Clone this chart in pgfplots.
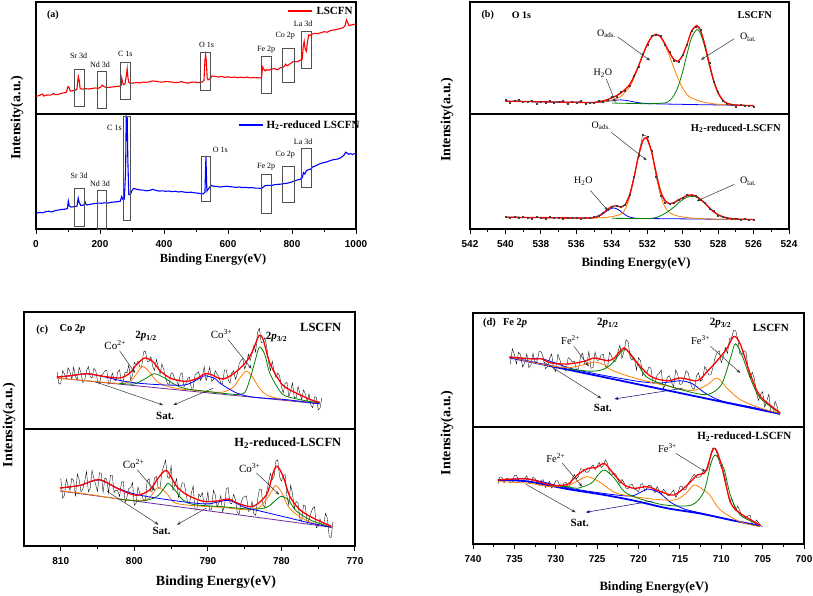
\documentclass[border=0pt]{standalone}
\usepackage{fontspec}
\setmainfont{Liberation Serif}
\setsansfont{Liberation Sans}
\usepackage{pgfplots}
\pgfplotsset{compat=1.18}
\usetikzlibrary{arrows.meta}

\definecolor{fitred}{RGB}{255,0,0}
\definecolor{fitblue}{RGB}{0,0,255}
\definecolor{fitgreen}{RGB}{0,128,0}
\definecolor{fitorange}{RGB}{255,128,0}
\definecolor{basepurple}{RGB}{110,40,160}
\definecolor{boxgray}{RGB}{80,80,80}

\tikzset{
  arr/.style={-{Stealth[length=4pt,width=3pt]}, line width=0.5pt, black!80},
  box/.style={boxgray, line width=0.5pt},
}
\pgfplotsset{
  panel/.style={scale only axis, ymin=0, ymax=1, ytick=\empty, clip=false,
    axis line style={line width=1.3pt},
    every tick/.style={black, line width=1pt},
    tick align=outside, major tick length=5pt, minor tick length=3pt,
    xtick pos=left},
  top/.style={panel, xtick=\empty},
  bot/.style={panel, minor x tick num=1, xticklabel shift=3pt,
    xticklabel style={font=\fontsize{10}{10}\selectfont\sffamily\bfseries,
      /pgf/number format/assume math mode=true, /pgf/number format/1000 sep={}}},
  raw/.style={black, line width=0.35pt},
  fit/.style={fitred, line width=1.3pt, smooth, tension=0.5},
  cmp/.style={line width=0.8pt, smooth, tension=0.5},
}

\begin{document}
\begin{tikzpicture}
\useasboundingbox (0pt,0pt) rectangle (813pt,596pt);

% ---------------- (a) survey, LSCFN ----------------
\begin{axis}[top, at={(36pt,482pt)}, anchor=south west, width=320pt, height=112pt,
  xmin=0, xmax=1000]
\addplot[fitred, line width=1.1pt] coordinates {
(0,0.157)(10,0.165)(20,0.178)(25,0.160)(35,0.170)(45,0.168)(55,0.182)(60,0.172)(70,0.175)(80,0.185)
(90,0.190)(95,0.195)(100,0.245)(103,0.238)(107,0.205)(115,0.208)(122,0.212)(128,0.222)(132,0.335)(135,0.300)
(138,0.225)(145,0.222)(155,0.226)(165,0.223)(175,0.228)(185,0.232)(195,0.230)(203,0.242)(207,0.258)(212,0.245)
(220,0.236)(230,0.238)(240,0.242)(250,0.245)(260,0.248)(266,0.255)(268,0.320)(270,0.290)(273,0.262)(278,0.268)
(283,0.360)(285,0.405)(287,0.330)(290,0.280)(295,0.275)(305,0.277)(315,0.280)(325,0.278)(335,0.285)(345,0.282)
(355,0.288)(365,0.295)(375,0.292)(385,0.287)(395,0.284)(405,0.290)(415,0.288)(425,0.285)(435,0.280)(445,0.283)
(455,0.288)(465,0.280)(475,0.276)(485,0.283)(495,0.285)(505,0.280)(515,0.282)(520,0.288)(525,0.300)(528,0.480)
(530,0.527)(532,0.480)(535,0.320)(538,0.305)(545,0.318)(550,0.340)(560,0.335)(570,0.330)(580,0.335)(590,0.328)
(600,0.332)(610,0.326)(620,0.330)(630,0.324)(640,0.328)(650,0.325)(660,0.330)(670,0.322)(680,0.326)(690,0.324)
(700,0.322)(705,0.330)(708,0.420)(712,0.400)(716,0.385)(720,0.395)(725,0.390)(735,0.400)(745,0.405)(755,0.395)
(765,0.415)(775,0.420)(780,0.445)(785,0.430)(795,0.450)(805,0.470)(815,0.465)(825,0.478)(832,0.490)(835,0.600)
(838,0.650)(841,0.580)(845,0.560)(848,0.640)(852,0.705)(856,0.700)(862,0.712)(870,0.720)(880,0.718)(890,0.725)
(900,0.735)(910,0.730)(920,0.745)(930,0.750)(940,0.755)(950,0.762)(960,0.770)(966,0.790)(970,0.840)(974,0.815)
(978,0.790)(985,0.795)(993,0.800)(1000,0.805)};
% legend
\draw[fitred, line width=1.3pt] (axis cs:787,0.92) -- (axis cs:862,0.92);
\node[anchor=west, font=\fontsize{11}{11}\selectfont\bfseries, inner sep=0pt] at (axis cs:876,0.92) {LSCFN};
\node[font=\fontsize{10}{10}\selectfont\bfseries] at (axis cs:53,0.884) {(a)};
\draw[box] (axis cs:119,0.068) rectangle (axis cs:150,0.402);
\draw[box] (axis cs:190,0.047) rectangle (axis cs:221,0.379);
\draw[box] (axis cs:262,0.133) rectangle (axis cs:294,0.462);
\draw[box] (axis cs:512,0.216) rectangle (axis cs:544,0.550);
\draw[box] (axis cs:703,0.186) rectangle (axis cs:734,0.518);
\draw[box] (axis cs:771,0.281) rectangle (axis cs:808,0.586);
\draw[box] (axis cs:829,0.408) rectangle (axis cs:860,0.743);
\begin{scope}[every node/.style={font=\fontsize{8}{8}\selectfont}]
\node at (axis cs:133,0.518) {Sr 3d};
\node at (axis cs:200,0.438) {Nd 3d};
\node at (axis cs:279,0.536) {C 1s};
\node at (axis cs:533,0.621) {O 1s};
\node at (axis cs:719,0.577) {Fe 2p};
\node at (axis cs:779,0.701) {Co 2p};
\node at (axis cs:835,0.802) {La 3d};
\end{scope}
\end{axis}

% ---------------- (a) survey, H2-reduced ----------------
\begin{axis}[bot, at={(36pt,367pt)}, anchor=south west, width=320pt, height=115pt,
  xmin=0, xmax=1000, xtick={0,200,...,1000}]
\addplot[fitblue, line width=1.1pt] coordinates {
(0,0.134)(10,0.145)(20,0.140)(30,0.150)(40,0.155)(50,0.148)(60,0.160)(70,0.165)(80,0.170)(90,0.172)
(98,0.178)(101,0.243)(104,0.200)(110,0.190)(120,0.195)(128,0.198)(132,0.268)(135,0.230)(140,0.205)(150,0.208)
(153,0.237)(157,0.210)(165,0.212)(175,0.218)(185,0.222)(195,0.225)(205,0.224)(215,0.228)(225,0.226)(235,0.232)
(245,0.235)(255,0.238)(263,0.240)(268,0.282)(272,0.255)(276,0.260)(280,0.500)(282,0.979)(285,0.965)(287,0.600)
(290,0.300)(295,0.300)(300,0.335)(305,0.352)(315,0.345)(325,0.340)(335,0.338)(345,0.332)(355,0.335)(365,0.345)
(375,0.335)(385,0.330)(395,0.332)(405,0.328)(415,0.330)(425,0.325)(435,0.328)(445,0.322)(455,0.325)(465,0.320)
(475,0.318)(485,0.320)(495,0.315)(505,0.312)(515,0.308)(522,0.305)(528,0.320)(531,0.629)(534,0.330)(537,0.340)
(542,0.362)(548,0.378)(555,0.372)(565,0.370)(575,0.365)(585,0.368)(595,0.372)(605,0.368)(615,0.366)(625,0.362)
(635,0.365)(645,0.360)(655,0.362)(665,0.358)(675,0.360)(685,0.356)(695,0.355)(705,0.352)(710,0.365)(715,0.375)
(725,0.380)(735,0.378)(745,0.385)(755,0.388)(765,0.390)(775,0.395)(785,0.398)(795,0.405)(805,0.415)(815,0.425)
(825,0.432)(832,0.445)(836,0.490)(840,0.478)(845,0.505)(850,0.515)(858,0.520)(865,0.540)(875,0.550)(885,0.565)
(895,0.575)(905,0.580)(915,0.590)(925,0.600)(935,0.605)(945,0.610)(955,0.625)(962,0.640)(968,0.668)(972,0.660)
(977,0.650)(983,0.655)(990,0.648)(995,0.655)(1000,0.659)};
% legend
\draw[fitblue, line width=1.3pt] (axis cs:634,0.904) -- (axis cs:709,0.904);
\node[anchor=west, font=\fontsize{11}{11}\selectfont\bfseries, inner sep=0pt] at (axis cs:720,0.904) {H\textsubscript{2}-reduced LSCFN};
\draw[box] (axis cs:119,0.021) rectangle (axis cs:150,0.356);
\draw[box] (axis cs:190,0.0) rectangle (axis cs:221,0.335);
\draw[box] (axis cs:272,0.074) rectangle (axis cs:293,0.979);
\draw[box] (axis cs:515,0.237) rectangle (axis cs:545,0.635);
\draw[box] (axis cs:703,0.139) rectangle (axis cs:734,0.475);
\draw[box] (axis cs:771,0.231) rectangle (axis cs:808,0.546);
\draw[box] (axis cs:829,0.362) rectangle (axis cs:860,0.703);
\begin{scope}[every node/.style={font=\fontsize{8}{8}\selectfont}]
\node at (axis cs:135,0.466) {Sr 3d};
\node at (axis cs:200,0.389) {Nd 3d};
\node at (axis cs:245,0.881) {C 1s};
\node at (axis cs:576,0.686) {O 1s};
\node at (axis cs:719,0.543) {Fe 2p};
\node at (axis cs:779,0.647) {Co 2p};
\node at (axis cs:835,0.760) {La 3d};
\end{scope}
\end{axis}

% ---------------- (b) O 1s, LSCFN ----------------
\begin{axis}[top, at={(470pt,482pt)}, anchor=south west, width=319pt, height=112pt,
  xmin=524, xmax=542, x dir=reverse]
\addplot[black!75, line width=0.4pt, mark=square*, mark size=0.5pt] coordinates {
(540,0.124)(539.75,0.103)(539.5,0.118)(539.25,0.128)(539,0.106)(538.75,0.110)(538.5,0.122)(538.25,0.096)
(538,0.114)(537.75,0.104)(537.5,0.118)(537.25,0.097)(537,0.107)(536.75,0.116)(536.5,0.092)(536.25,0.113)
(536,0.100)(535.75,0.118)(535.5,0.095)(535.25,0.105)(535,0.100)(534.75,0.120)(534.5,0.113)(534.25,0.125)
(534,0.150)(533.75,0.158)(533.5,0.195)(533.25,0.212)(533,0.255)(532.75,0.342)(532.5,0.420)(532.25,0.535)
(532,0.615)(531.75,0.695)(531.5,0.705)(531.25,0.698)(531,0.620)(530.75,0.558)(530.5,0.480)(530.25,0.465)
(530,0.530)(529.75,0.618)(529.5,0.748)(529.25,0.778)(529,0.755)(528.75,0.612)(528.5,0.458)(528.25,0.292)
(528,0.196)(527.75,0.120)(527.5,0.090)(527.25,0.085)(527,0.068)(526.75,0.082)(526.5,0.070)(526.25,0.078)(526,0.066)};
\addplot[cmp, fitblue] coordinates {(540,0.115)(538,0.109)(536,0.104)(535,0.101)(534.5,0.107)(534,0.119)(533.5,0.126)(533,0.116)(532.5,0.101)(532,0.093)(531,0.089)(530,0.086)(529,0.083)(528,0.081)(527,0.078)(526,0.075)};
\addplot[cmp, fitorange] coordinates {(536,0.104)(535,0.103)(534.5,0.109)(534,0.123)(533.5,0.156)(533,0.240)(532.75,0.320)(532.5,0.419)(532.25,0.524)(532,0.620)(531.75,0.687)(531.5,0.711)(531.25,0.685)(531,0.617)(530.75,0.520)(530.5,0.413)(530.25,0.313)(530,0.231)(529.75,0.172)(529.5,0.144)(529,0.113)(528.5,0.097)(528,0.087)(527,0.078)(526,0.075)};
\addplot[cmp, fitgreen] coordinates {(534,0.098)(532,0.092)(531,0.099)(530.75,0.119)(530.5,0.163)(530.25,0.247)(530,0.378)(529.75,0.538)(529.5,0.680)(529.2,0.754)(529,0.719)(528.75,0.598)(528.5,0.436)(528.25,0.288)(528,0.184)(527.75,0.124)(527.5,0.095)(527,0.080)(526,0.075)};
\addplot[fit] coordinates {(540,0.115)(538,0.109)(536,0.104)(535,0.103)(534.5,0.117)(534,0.144)(533.5,0.186)(533,0.261)(532.75,0.335)(532.5,0.427)(532.25,0.527)(532,0.621)(531.75,0.687)(531.5,0.712)(531.25,0.689)(531,0.627)(530.75,0.550)(530.5,0.488)(530.25,0.473)(530,0.523)(529.75,0.624)(529.5,0.740)(529.2,0.789)(529,0.749)(528.75,0.620)(528.5,0.451)(528.25,0.299)(528,0.190)(527.75,0.127)(527.5,0.096)(527,0.080)(526,0.075)};
\begin{scope}[every node/.style={font=\fontsize{10}{10}\selectfont}]
\node[font=\fontsize{10}{10}\selectfont\bfseries] at (axis cs:541.0,0.88) {(b)};
\node[font=\fontsize{10}{10}\selectfont\bfseries] at (axis cs:539.1,0.88) {O 1s};
\node[font=\fontsize{10.5}{10}\selectfont\bfseries] at (axis cs:525.93,0.88) {LSCFN};
\node at (axis cs:534.3,0.716) {O\textsubscript{ads.}};
\node at (axis cs:526.3,0.687) {O\textsubscript{lat.}};
\node at (axis cs:534.5,0.364) {H\textsubscript{2}O};
\end{scope}
\draw[arr] (axis cs:533.66,0.687) -- (axis cs:531.84,0.478);
\draw[arr] (axis cs:527.09,0.672) -- (axis cs:528.97,0.484);
\draw[arr] (axis cs:534.31,0.313) -- (axis cs:533.79,0.104);
\end{axis}

% ---------------- (b) O 1s, H2-reduced ----------------
\begin{axis}[bot, at={(470pt,367pt)}, anchor=south west, width=319pt, height=115pt,
  xmin=524, xmax=542, x dir=reverse, xtick={524,526,...,542}]
\addplot[black!75, line width=0.4pt, mark=square*, mark size=0.5pt] coordinates {
(540,0.108)(539.75,0.097)(539.5,0.104)(539.25,0.095)(539,0.106)(538.75,0.099)(538.5,0.093)(538.25,0.104)
(538,0.098)(537.75,0.092)(537.5,0.103)(537.25,0.096)(537,0.101)(536.75,0.091)(536.5,0.099)(536.25,0.094)
(536,0.100)(535.75,0.092)(535.5,0.097)(535.25,0.100)(535,0.104)(534.75,0.118)(534.5,0.140)(534.25,0.172)
(534,0.192)(533.75,0.205)(533.5,0.195)(533.25,0.215)(533,0.300)(532.75,0.455)(532.5,0.640)(532.25,0.820)
(532,0.805)(531.75,0.680)(531.5,0.455)(531.25,0.290)(531,0.232)(530.75,0.218)(530.5,0.232)(530.25,0.258)
(530,0.268)(529.75,0.295)(529.5,0.292)(529.25,0.290)(529,0.255)(528.75,0.228)(528.5,0.180)(528.25,0.155)
(528,0.118)(527.75,0.105)(527.5,0.098)(527.25,0.090)(527,0.092)(526.75,0.083)(526.5,0.088)(526.25,0.080)(526,0.085)};
\addplot[cmp, fitblue] coordinates {(540,0.102)(538,0.099)(536,0.096)(535.15,0.097)(534.9,0.102)(534.65,0.116)(534.4,0.143)(534.15,0.170)(533.9,0.183)(533.65,0.170)(533.4,0.141)(533.15,0.114)(532.9,0.100)(532.65,0.093)(532,0.091)(530,0.088)(528,0.085)(526,0.082)};
\addplot[cmp, fitorange] coordinates {(540,0.102)(538,0.099)(536,0.096)(535,0.096)(534.5,0.099)(534,0.107)(533.6,0.123)(533.35,0.146)(533.1,0.226)(532.85,0.368)(532.6,0.554)(532.35,0.722)(532.1,0.791)(531.85,0.721)(531.6,0.553)(531.35,0.366)(531.1,0.223)(530.85,0.160)(530.6,0.130)(530.2,0.110)(529.6,0.097)(529,0.090)(528,0.085)(526,0.082)};
\addplot[cmp, fitgreen] coordinates {(534,0.093)(532,0.091)(531.5,0.100)(531.25,0.115)(531,0.135)(530.75,0.160)(530.5,0.190)(530.25,0.225)(530,0.255)(529.75,0.277)(529.5,0.287)(529.25,0.278)(529,0.255)(528.75,0.222)(528.5,0.185)(528.25,0.150)(528,0.124)(527.75,0.108)(527.5,0.097)(527,0.087)(526,0.082)};
\addplot[fit] coordinates {(540,0.102)(538,0.099)(536,0.096)(535,0.098)(534.5,0.136)(534.25,0.170)(534,0.195)(533.75,0.200)(533.5,0.192)(533.25,0.210)(533,0.290)(532.75,0.445)(532.5,0.630)(532.25,0.768)(532.1,0.792)(532,0.782)(531.75,0.670)(531.5,0.490)(531.25,0.330)(531,0.250)(530.75,0.222)(530.5,0.227)(530.25,0.250)(530,0.272)(529.75,0.290)(529.5,0.297)(529.25,0.287)(529,0.260)(528.75,0.225)(528.5,0.187)(528.25,0.150)(528,0.124)(527.75,0.108)(527.5,0.097)(527,0.087)(526,0.082)};
\begin{scope}[every node/.style={font=\fontsize{10}{10}\selectfont}]
\node[font=\fontsize{10.5}{10}\selectfont\bfseries] at (axis cs:527.0,0.875) {H\textsubscript{2}-reduced-LSCFN};
\node at (axis cs:534.6,0.898) {O\textsubscript{ads.}};
\node at (axis cs:526.3,0.417) {O\textsubscript{lat.}};
\node at (axis cs:535.6,0.417) {H\textsubscript{2}O};
\end{scope}
\draw[arr] (axis cs:534.03,0.840) -- (axis cs:532.03,0.598);
\draw[arr] (axis cs:527.09,0.388) -- (axis cs:529.21,0.242);
\draw[arr] (axis cs:535.21,0.335) -- (axis cs:534.22,0.160);
\end{axis}

% ---------------- (c) Co 2p, LSCFN ----------------
\begin{axis}[top, at={(24pt,167pt)}, anchor=south west, width=331pt, height=117pt,
  xmin=770, xmax=815, x dir=reverse]
\addplot[raw] coordinates {
(810.5,0.486)(810.25,0.383)(810,0.391)(809.75,0.498)(809.5,0.471)(809.25,0.431)(809,0.523)(808.75,0.490)
(808.5,0.422)(808.25,0.529)(808,0.447)(807.75,0.421)(807.5,0.527)(807.25,0.480)(807,0.398)(806.75,0.414)
(806.5,0.500)(806.25,0.533)(806,0.446)(805.75,0.437)(805.5,0.518)(805.25,0.502)(805,0.408)(804.75,0.385)
(804.5,0.459)(804.25,0.472)(804,0.498)(803.75,0.504)(803.5,0.383)(803.25,0.410)(803,0.478)(802.75,0.428)
(802.5,0.412)(802.25,0.488)(802,0.507)(801.75,0.381)(801.5,0.409)(801.25,0.487)(801,0.480)(800.75,0.547)
(800.5,0.417)(800.25,0.458)(800,0.568)(799.75,0.550)(799.5,0.581)(799.25,0.531)(799,0.529)(798.75,0.658)
(798.5,0.668)(798.25,0.577)(798,0.576)(797.75,0.618)(797.5,0.533)(797.25,0.501)(797,0.594)(796.75,0.532)
(796.5,0.470)(796.25,0.557)(796,0.510)(795.75,0.436)(795.5,0.389)(795.25,0.380)(795,0.482)(794.75,0.471)
(794.5,0.425)(794.25,0.414)(794,0.367)(793.75,0.470)(793.5,0.481)(793.25,0.361)(793,0.387)(792.75,0.432)
(792.5,0.442)(792.25,0.348)(792,0.352)(791.75,0.462)(791.5,0.473)(791.25,0.490)(791,0.415)(790.75,0.446)
(790.5,0.532)(790.25,0.413)(790,0.461)(789.75,0.529)(789.5,0.408)(789.25,0.422)(789,0.498)(788.75,0.470)
(788.5,0.448)(788.25,0.391)(788,0.390)(787.75,0.504)(787.5,0.505)(787.25,0.424)(787,0.392)(786.75,0.480)
(786.5,0.497)(786.25,0.425)(786,0.471)(785.75,0.557)(785.5,0.586)(785.25,0.602)(785,0.513)(784.75,0.556)
(784.5,0.640)(784.25,0.584)(784,0.646)(783.75,0.715)(783.5,0.658)(783.25,0.826)(783,0.861)(782.75,0.739)
(782.5,0.743)(782.25,0.782)(782,0.702)(781.75,0.573)(781.5,0.499)(781.25,0.579)(781,0.497)(780.75,0.439)
(780.5,0.479)(780.25,0.454)(780,0.359)(779.75,0.308)(779.5,0.390)(779.25,0.400)(779,0.277)(778.75,0.325)
(778.5,0.394)(778.25,0.268)(778,0.267)(777.75,0.364)(777.5,0.307)(777.25,0.251)(777,0.334)(776.75,0.300)
(776.5,0.237)(776.25,0.301)(776,0.203)(775.75,0.183)(775.5,0.275)(775.25,0.271)(775,0.162)(774.75,0.180)(774.5,0.267)};
\addplot[basepurple, line width=0.8pt] coordinates {(810.5,0.436)(774.8,0.215)};
\addplot[cmp, fitorange] coordinates {(810.5,0.435)(806,0.41)(802,0.39)(800.5,0.41)(799.7,0.47)(798.9,0.535)(798,0.49)(797,0.41)(796,0.375)(794,0.345)(790,0.32)(788,0.315)(786.5,0.36)(785.6,0.44)(784.8,0.495)(784,0.45)(783,0.35)(782,0.29)(780,0.255)(777,0.235)(774.8,0.222)};
\addplot[cmp, fitgreen] coordinates {(802,0.39)(800,0.385)(798.5,0.43)(797.3,0.472)(796,0.44)(794.5,0.38)(793,0.345)(790,0.32)(788,0.305)(786,0.295)(785,0.31)(784.3,0.421)(783.6,0.578)(783,0.70)(782.25,0.635)(781.6,0.479)(780.2,0.322)(779.3,0.279)(777,0.245)(774.8,0.222)};
\addplot[cmp, fitblue] coordinates {(810.5,0.444)(808.7,0.455)(806.3,0.472)(804,0.445)(802,0.415)(799.7,0.393)(797,0.38)(795,0.375)(793,0.378)(791.5,0.42)(790.4,0.455)(789,0.43)(788.4,0.393)(786.1,0.308)(783.8,0.272)(779.3,0.25)(774.8,0.215)};
\addplot[fit] coordinates {(810.56,0.444)(808.75,0.455)(806.48,0.472)(804.22,0.450)(801.96,0.436)(800.6,0.479)(799.69,0.550)(798.56,0.607)(797.43,0.573)(796.52,0.499)(795.16,0.436)(793.8,0.413)(792.89,0.407)(791.54,0.430)(790.41,0.472)(789.5,0.464)(788.37,0.430)(787.46,0.436)(786.1,0.493)(784.74,0.578)(783.84,0.678)(783.03,0.800)(782.48,0.763)(781.58,0.564)(780.22,0.407)(779.31,0.350)(777.05,0.279)(775.69,0.243)(774.78,0.228)};
\begin{scope}[every node/.style={font=\fontsize{11}{11}\selectfont}]
\node[anchor=west, font=\fontsize{10.5}{10}\selectfont\bfseries] at (axis cs:813.8,0.85) {(c)};
\node[anchor=west, font=\fontsize{10.5}{10}\selectfont\bfseries] at (axis cs:810.65,0.85) {Co 2\textit{p}};
\node[font=\fontsize{11}{11}\selectfont\bfseries] at (axis cs:798.4,0.792) {2\textit{p}\textsubscript{1/2}};
\node[font=\fontsize{11}{11}\selectfont\bfseries] at (axis cs:780.67,0.783) {2\textit{p}\textsubscript{3/2}};
\node[anchor=east, font=\fontsize{12.5}{12}\selectfont\bfseries] at (axis cs:771.4,0.872) {LSCFN};
\node at (axis cs:802.6,0.715) {Co\textsuperscript{2+}};
\node at (axis cs:788.14,0.812) {Co\textsuperscript{3+}};
\node[font=\fontsize{11}{11}\selectfont\bfseries] at (axis cs:795.8,0.108) {Sat.};
\end{scope}
\draw[arr] (axis cs:801.96,0.664) -- (axis cs:799.9,0.479);
\draw[arr] (axis cs:787.24,0.763) -- (axis cs:784.06,0.515);
\draw[arr] (axis cs:805.35,0.404) -- (axis cs:796.1,0.205);
\draw[arr] (axis cs:789.3,0.348) -- (axis cs:794.7,0.205);
\end{axis}

% ---------------- (c) Co 2p, H2-reduced ----------------
\begin{axis}[bot, at={(24pt,50pt)}, anchor=south west, width=331pt, height=117pt,
  xmin=770, xmax=815, x dir=reverse, xtick={770,780,...,810}]
\addplot[raw] coordinates {
(810,0.577)(809.75,0.409)(809.5,0.430)(809.25,0.572)(809,0.514)(808.75,0.476)(808.5,0.578)(808.25,0.561)
(808,0.423)(807.75,0.615)(807.5,0.567)(807.25,0.462)(807,0.487)(806.75,0.553)(806.5,0.638)(806.25,0.464)
(806,0.490)(805.75,0.645)(805.5,0.580)(805.25,0.523)(805,0.466)(804.75,0.625)(804.5,0.624)(804.25,0.457)
(804,0.580)(803.75,0.571)(803.5,0.452)(803.25,0.604)(803,0.605)(802.75,0.457)(802.5,0.478)(802.25,0.471)
(802,0.423)(801.75,0.547)(801.5,0.550)(801.25,0.374)(801,0.418)(800.75,0.493)(800.5,0.497)(800.25,0.543)
(800,0.349)(799.75,0.367)(799.5,0.504)(799.25,0.447)(799,0.440)(798.75,0.388)(798.5,0.385)(798.25,0.556)
(798,0.576)(797.75,0.463)(797.5,0.480)(797.25,0.583)(797,0.595)(796.75,0.495)(796.5,0.495)(796.25,0.630)
(796,0.685)(795.75,0.733)(795.5,0.590)(795.25,0.578)(795,0.685)(794.75,0.475)(794.5,0.525)(794.25,0.575)
(794,0.415)(793.75,0.473)(793.5,0.540)(793.25,0.538)(793,0.465)(792.75,0.367)(792.5,0.368)(792.25,0.451)
(792,0.513)(791.75,0.307)(791.5,0.310)(791.25,0.445)(791,0.420)(790.75,0.456)(790.5,0.342)(790.25,0.363)
(790,0.463)(789.75,0.304)(789.5,0.315)(789.25,0.476)(789,0.436)(788.75,0.337)(788.5,0.367)(788.25,0.430)
(788,0.293)(787.75,0.336)(787.5,0.489)(787.25,0.499)(787,0.368)(786.75,0.360)(786.5,0.442)(786.25,0.394)
(786,0.286)(785.75,0.272)(785.5,0.367)(785.25,0.415)(785,0.422)(784.75,0.429)(784.5,0.296)(784.25,0.303)
(784,0.380)(783.75,0.276)(783.5,0.262)(783.25,0.396)(783,0.480)(782.75,0.485)(782.5,0.350)(782.25,0.328)
(782,0.465)(781.75,0.543)(781.5,0.620)(781.25,0.568)(781,0.595)(780.75,0.726)(780.5,0.736)(780.25,0.591)
(780,0.555)(779.75,0.603)(779.5,0.610)(779.25,0.425)(779,0.350)(778.75,0.520)(778.5,0.450)(778.25,0.320)
(778,0.380)(777.75,0.370)(777.5,0.230)(777.25,0.210)(777,0.350)(776.75,0.340)(776.5,0.190)(776.25,0.230)
(776,0.280)(775.75,0.323)(775.5,0.335)(775.25,0.157)(775,0.168)(774.75,0.231)(774.5,0.183)(774.25,0.187)
(774,0.280)(773.75,0.234)(773.5,0.078)(773.25,0.072)(773,0.205)};
\addplot[basepurple, line width=0.8pt] coordinates {(810.1,0.47)(773.2,0.16)};
\addplot[cmp, fitorange] coordinates {(810.1,0.473)(806,0.44)(802,0.40)(799.5,0.39)(798,0.41)(796.8,0.50)(795.6,0.45)(794.5,0.37)(792,0.345)(788,0.33)(785,0.31)(783,0.33)(781.5,0.45)(780.8,0.518)(780,0.46)(779,0.33)(777.5,0.25)(775.7,0.195)(773.2,0.16)};
\addplot[cmp, fitgreen] coordinates {(802,0.40)(799,0.385)(797,0.42)(796,0.49)(795.4,0.535)(794.5,0.48)(793.5,0.40)(792,0.355)(788,0.335)(784,0.315)(782,0.33)(781,0.38)(780,0.425)(779,0.39)(778,0.30)(776,0.22)(773.2,0.16)};
\addplot[cmp, fitblue] coordinates {(810.1,0.496)(807.4,0.518)(804.8,0.565)(802.5,0.50)(800,0.445)(797,0.41)(793,0.375)(790,0.36)(787.2,0.39)(785,0.33)(783,0.30)(779,0.24)(776,0.195)(773.2,0.16)};
\addplot[fit] coordinates {(810.11,0.496)(807.39,0.518)(804.77,0.567)(801.96,0.481)(799.69,0.433)(797.88,0.481)(796.75,0.581)(795.61,0.644)(794.25,0.510)(792.89,0.439)(790.64,0.382)(788.37,0.387)(787.24,0.402)(785.65,0.359)(783.84,0.339)(782.02,0.439)(781.13,0.624)(780.58,0.681)(779.77,0.595)(778.86,0.424)(777.5,0.310)(775.69,0.239)(773.2,0.168)};
\begin{scope}[every node/.style={font=\fontsize{11}{11}\selectfont}]
\node[anchor=east, font=\fontsize{12.5}{12}\selectfont\bfseries] at (axis cs:771.4,0.88) {H\textsubscript{2}-reduced-LSCFN};
\node at (axis cs:800.1,0.70) {Co\textsuperscript{2+}};
\node at (axis cs:784.3,0.667) {Co\textsuperscript{3+}};
\node[font=\fontsize{11}{11}\selectfont\bfseries] at (axis cs:796.3,0.125) {Sat.};
\end{scope}
\draw[arr] (axis cs:799.6,0.652) -- (axis cs:797.2,0.473);
\draw[arr] (axis cs:783.4,0.624) -- (axis cs:780.3,0.439);
\draw[arr] (axis cs:803.7,0.467) -- (axis cs:796.7,0.182);
\draw[arr] (axis cs:790.2,0.325) -- (axis cs:794.2,0.182);
\end{axis}

% ---------------- (d) Fe 2p, LSCFN ----------------
\begin{axis}[top, at={(473pt,169pt)}, anchor=south west, width=331pt, height=114pt,
  xmin=700, xmax=740, x dir=reverse]
\addplot[raw] coordinates {
(735.5,0.550)(735.25,0.685)(735,0.635)(734.75,0.554)(734.5,0.656)(734.25,0.631)(734,0.525)(733.75,0.564)
(733.5,0.642)(733.25,0.521)(733,0.543)(732.75,0.646)(732.5,0.565)(732.25,0.582)(732,0.662)(731.75,0.659)
(731.5,0.608)(731.25,0.512)(731,0.528)(730.75,0.601)(730.5,0.641)(730.25,0.512)(730,0.487)(729.75,0.638)
(729.5,0.589)(729.25,0.532)(729,0.515)(728.75,0.490)(728.5,0.609)(728.25,0.596)(728,0.567)(727.75,0.578)
(727.5,0.501)(727.25,0.512)(727,0.619)(726.75,0.646)(726.5,0.553)(726.25,0.551)(726,0.661)(725.75,0.515)
(725.5,0.521)(725.25,0.657)(725,0.584)(724.75,0.589)(724.5,0.633)(724.25,0.638)(724,0.530)(723.75,0.516)
(723.5,0.653)(723.25,0.620)(723,0.571)(722.75,0.577)(722.5,0.655)(722.25,0.716)(722,0.601)(721.75,0.663)
(721.5,0.765)(721.25,0.748)(721,0.602)(720.75,0.588)(720.5,0.606)(720.25,0.499)(720,0.608)(719.75,0.582)
(719.5,0.451)(719.25,0.490)(719,0.472)(718.75,0.526)(718.5,0.516)(718.25,0.383)(718,0.394)(717.75,0.454)
(717.5,0.473)(717.25,0.500)(717,0.335)(716.75,0.371)(716.5,0.438)(716.25,0.450)(716,0.390)(715.75,0.354)
(715.5,0.501)(715.25,0.457)(715,0.373)(714.75,0.379)(714.5,0.425)(714.25,0.494)(714,0.475)(713.75,0.392)
(713.5,0.341)(713.25,0.330)(713,0.447)(712.75,0.476)(712.5,0.400)(712.25,0.418)(712,0.531)(711.75,0.501)
(711.5,0.455)(711.25,0.458)(711,0.525)(710.75,0.609)(710.5,0.652)(710.25,0.668)(710,0.563)(709.75,0.618)
(709.5,0.697)(709.25,0.645)(709,0.776)(708.75,0.784)(708.5,0.850)(708.25,0.844)(708,0.768)(707.75,0.639)
(707.5,0.637)(707.25,0.670)(707,0.655)(706.75,0.504)(706.5,0.433)(706.25,0.481)(706,0.425)(705.75,0.297)
(705.5,0.233)(705.25,0.287)(705,0.309)(704.75,0.174)(704.5,0.230)(704.25,0.287)(704,0.136)(703.75,0.137)
(703.5,0.226)(703.25,0.179)(703,0.107)};
\addplot[fitblue, line width=1.8pt] coordinates {(735.6,0.61)(702.9,0.115)};
\addplot[cmp, fitblue] coordinates {(735.6,0.614)(733.5,0.60)(731.8,0.60)(730,0.56)(728,0.51)(724,0.45)(720,0.40)(717.5,0.385)(715,0.405)(713.5,0.38)(712,0.30)(710,0.23)(706,0.17)(702.9,0.12)};
\addplot[cmp, fitorange] coordinates {(735.6,0.614)(733,0.57)(730.5,0.535)(728.5,0.52)(727,0.54)(725.3,0.57)(724,0.54)(723.3,0.50)(720.5,0.43)(716.5,0.36)(713.5,0.32)(711.7,0.37)(710.5,0.43)(709.3,0.34)(707.7,0.24)(705.3,0.167)(702.9,0.12)};
\addplot[cmp, fitgreen] coordinates {(728.5,0.51)(726,0.49)(724.5,0.50)(723.3,0.55)(721.7,0.68)(720.5,0.60)(719.3,0.46)(718,0.40)(714.5,0.32)(711.7,0.285)(710,0.37)(708.9,0.60)(708.3,0.73)(707.5,0.63)(706.5,0.43)(705.3,0.255)(702.9,0.12)};
\addplot[fit] coordinates {(735.58,0.614)(732.57,0.596)(731.77,0.599)(730.56,0.561)(728.55,0.553)(726.55,0.576)(725.34,0.605)(723.74,0.582)(722.93,0.605)(721.73,0.693)(720.52,0.591)(718.52,0.444)(716.51,0.406)(714.9,0.430)(712.89,0.406)(711.69,0.488)(710.48,0.582)(709.28,0.693)(708.47,0.795)(707.67,0.722)(706.47,0.459)(705.27,0.269)(702.86,0.123)};
\begin{scope}[every node/.style={font=\fontsize{10.5}{10}\selectfont}]
\node[anchor=west, font=\fontsize{10.5}{10}\selectfont\bfseries] at (axis cs:739.2,0.912) {(d)};
\node[anchor=west, font=\fontsize{10.5}{10}\selectfont\bfseries] at (axis cs:736.8,0.912) {Fe 2\textit{p}};
\node[font=\fontsize{11}{11}\selectfont\bfseries] at (axis cs:723.7,0.912) {2\textit{p}\textsubscript{1/2}};
\node[font=\fontsize{11}{11}\selectfont\bfseries] at (axis cs:710.1,0.912) {2\textit{p}\textsubscript{3/2}};
\node[anchor=east, font=\fontsize{11}{11}\selectfont\bfseries] at (axis cs:701.4,0.868) {LSCFN};
\node at (axis cs:728.2,0.766) {Fe\textsuperscript{2+}};
\node at (axis cs:712.5,0.766) {Fe\textsuperscript{3+}};
\node[font=\fontsize{11}{11}\selectfont\bfseries] at (axis cs:724.3,0.164) {Sat.};
\end{scope}
\draw[arr] (axis cs:727.8,0.708) -- (axis cs:726.0,0.532);
\draw[arr] (axis cs:711.3,0.708) -- (axis cs:707.7,0.474);
\draw[arr] (axis cs:731.5,0.573) -- (axis cs:724.5,0.252);
\draw[arr, draw=blue!50!black] (axis cs:714.7,0.339) -- (axis cs:722.9,0.246);
\end{axis}

% ---------------- (d) Fe 2p, H2-reduced ----------------
\begin{axis}[bot, at={(473pt,52pt)}, anchor=south west, width=331pt, height=117pt,
  xmin=700, xmax=740, x dir=reverse, xtick={700,705,...,740}]
\addplot[raw] coordinates {
(737,0.512)(736.75,0.573)(736.5,0.570)(736.25,0.522)(736,0.561)(735.75,0.562)(735.5,0.523)(735.25,0.531)
(735,0.585)(734.75,0.589)(734.5,0.547)(734.25,0.541)(734,0.534)(733.75,0.563)(733.5,0.584)(733.25,0.521)
(733,0.536)(732.75,0.571)(732.5,0.560)(732.25,0.527)(732,0.501)(731.75,0.546)(731.5,0.548)(731.25,0.483)
(731,0.512)(730.75,0.536)(730.5,0.479)(730.25,0.498)(730,0.541)(729.75,0.539)(729.5,0.496)(729.25,0.483)
(729,0.523)(728.75,0.525)(728.5,0.478)(728.25,0.506)(728,0.561)(727.75,0.593)(727.5,0.557)(727.25,0.579)
(727,0.642)(726.75,0.641)(726.5,0.626)(726.25,0.611)(726,0.620)(725.75,0.653)(725.5,0.675)(725.25,0.635)
(725,0.663)(724.75,0.697)(724.5,0.652)(724.25,0.672)(724,0.720)(723.75,0.688)(723.5,0.608)(723.25,0.587)
(723,0.609)(722.75,0.598)(722.5,0.548)(722.25,0.516)(722,0.553)(721.75,0.524)(721.5,0.475)(721.25,0.473)
(721,0.505)(720.75,0.510)(720.5,0.469)(720.25,0.464)(720,0.445)(719.75,0.508)(719.5,0.517)(719.25,0.452)
(719,0.478)(718.75,0.502)(718.5,0.500)(718.25,0.466)(718,0.438)(717.75,0.491)(717.5,0.456)(717.25,0.422)
(717,0.467)(716.75,0.449)(716.5,0.415)(716.25,0.411)(716,0.438)(715.75,0.462)(715.5,0.398)(715.25,0.432)
(715,0.490)(714.75,0.494)(714.5,0.461)(714.25,0.469)(714,0.518)(713.75,0.543)(713.5,0.575)(713.25,0.597)
(713,0.569)(712.75,0.571)(712.5,0.575)(712.25,0.615)(712,0.633)(711.75,0.626)(711.5,0.665)(711.25,0.775)
(711,0.821)(710.75,0.815)(710.5,0.771)(710.25,0.702)(710,0.652)(709.75,0.626)(709.5,0.551)(709.25,0.446)
(709,0.362)(708.75,0.388)(708.5,0.341)(708.25,0.285)(708,0.325)(707.75,0.283)(707.5,0.236)(707.25,0.223)
(707,0.226)(706.75,0.241)(706.5,0.244)(706.25,0.170)(706,0.156)(705.75,0.206)(705.5,0.184)(705.25,0.157)(705,0.147)};
\addplot[fitblue, line width=1.8pt, smooth] coordinates {(737,0.547)(733.4,0.535)(728.6,0.47)(724.1,0.419)(720.5,0.37)(716.5,0.305)(712.5,0.26)(708.5,0.2)(705.3,0.155)};
\addplot[cmp, fitblue] coordinates {(737,0.547)(735,0.555)(733.4,0.556)(731.5,0.53)(729,0.485)(724,0.43)(721,0.41)(719.8,0.44)(718.9,0.47)(717.5,0.44)(716.2,0.36)(714.5,0.30)(712.5,0.265)(708.5,0.2)(705.3,0.155)};
\addplot[cmp, fitorange] coordinates {(737,0.533)(733.4,0.52)(730.6,0.49)(728.6,0.50)(727.2,0.545)(726.3,0.576)(725.2,0.55)(724.3,0.51)(722.6,0.433)(719,0.39)(715.7,0.376)(714.3,0.43)(713.3,0.504)(712.3,0.47)(711.4,0.42)(710.1,0.29)(707.7,0.19)(705.3,0.148)};
\addplot[cmp, fitgreen] coordinates {(730.6,0.50)(728.6,0.49)(727.4,0.476)(725.7,0.52)(724.9,0.59)(724.1,0.632)(722.9,0.56)(721.7,0.447)(720,0.39)(716.8,0.333)(713.6,0.333)(712.1,0.447)(711.3,0.675)(710.7,0.76)(709.7,0.647)(708.9,0.419)(707.7,0.248)(705.3,0.162)};
\addplot[fit] coordinates {(737.0,0.547)(733.4,0.556)(730.6,0.504)(728.6,0.510)(727.4,0.590)(726.1,0.647)(725.1,0.653)(724.1,0.687)(722.9,0.590)(721.7,0.504)(720.5,0.476)(718.9,0.490)(717.3,0.447)(715.7,0.419)(714.1,0.504)(712.9,0.590)(711.9,0.618)(710.9,0.818)(710.1,0.704)(708.9,0.362)(707.7,0.262)(705.3,0.162)};
\begin{scope}[every node/.style={font=\fontsize{10.5}{10}\selectfont}]
\node[anchor=east, font=\fontsize{11}{11}\selectfont\bfseries] at (axis cs:701.1,0.917) {H\textsubscript{2}-reduced-LSCFN};
\node at (axis cs:730.0,0.732) {Fe\textsuperscript{2+}};
\node at (axis cs:716.5,0.823) {Fe\textsuperscript{3+}};
\node[font=\fontsize{11}{11}\selectfont\bfseries] at (axis cs:727.1,0.176) {Sat.};
\end{scope}
\draw[arr] (axis cs:729.2,0.69) -- (axis cs:726.8,0.49);
\draw[arr] (axis cs:715.5,0.775) -- (axis cs:711.9,0.618);
\draw[arr] (axis cs:733.6,0.510) -- (axis cs:727.6,0.271);
\draw[arr, draw=blue!50!black] (axis cs:718.3,0.368) -- (axis cs:726.35,0.271);
\end{axis}

% ---------------- axis titles ----------------
\begin{scope}[every node/.style={font=\fontsize{14}{14}\selectfont\bfseries}]
\node[rotate=90] at (17pt,478pt) {Intensity(a.u.)};
\node[rotate=90] at (447pt,476pt) {Intensity(a.u.)};
\node[rotate=90] at (9pt,171pt) {Intensity(a.u.)};
\node[rotate=90] at (447pt,163pt) {Intensity(a.u.)};
\end{scope}
\node[font=\fontsize{12.4}{12}\selectfont\bfseries] at (213pt,336pt) {Binding Energy(eV)};
\node[font=\fontsize{12.7}{12}\selectfont\bfseries] at (636pt,332pt) {Binding Energy(eV)};
\node[font=\fontsize{14}{14}\selectfont\bfseries] at (216pt,14pt) {Binding Energy(eV)};
\node[font=\fontsize{12.7}{12}\selectfont\bfseries] at (654pt,9pt) {Binding Energy(eV)};
\end{tikzpicture}
\end{document}
